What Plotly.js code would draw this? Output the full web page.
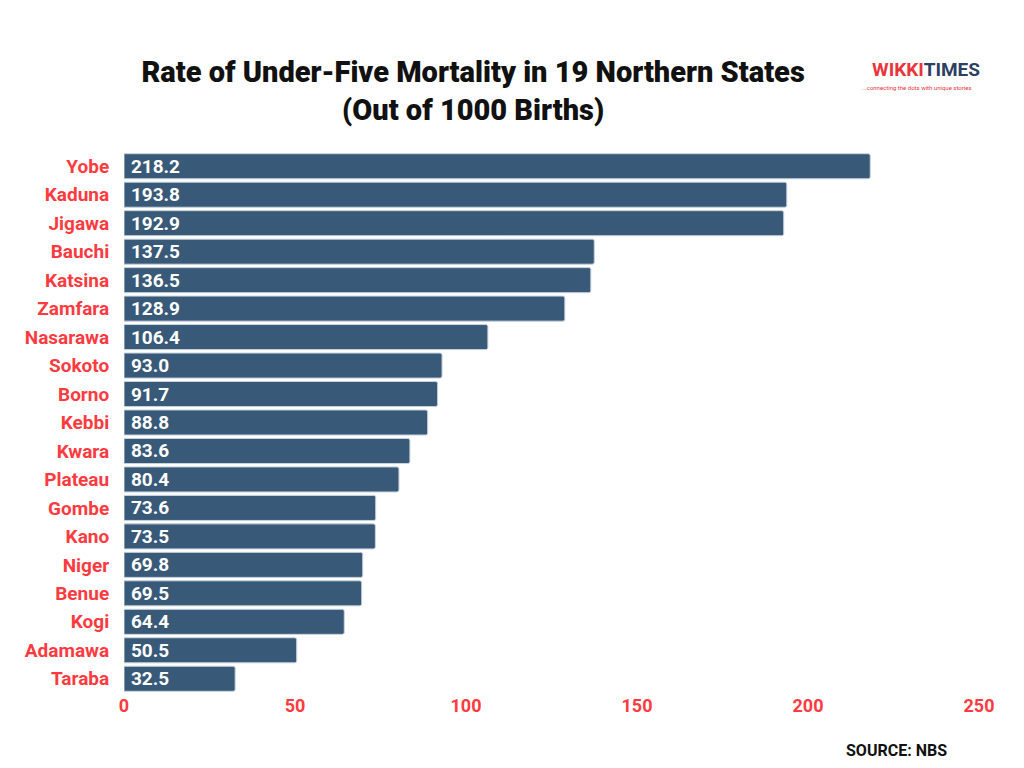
<!DOCTYPE html>
<html>
<head>
<meta charset="utf-8">
<script src="https://cdn.plot.ly/plotly-3.0.1.min.js"></script>
<style>
  html, body { margin: 0; padding: 0; background: #fff; }
  #chart { width: 1024px; height: 768px; }
</style>
</head>
<body>
<div id="chart"></div>
<script>
// states, top to bottom
var states = ["Yobe", "Kaduna", "Jigawa", "Bauchi", "Katsina", "Zamfara", "Nasarawa",
  "Sokoto", "Borno", "Kebbi", "Kwara", "Plateau", "Gombe", "Kano", "Niger",
  "Benue", "Kogi", "Adamawa", "Taraba"];
var rates = [218.2, 193.8, 192.9, 137.5, 136.5, 128.9, 106.4, 93.0, 91.7, 88.8,
  83.6, 80.4, 73.6, 73.5, 69.8, 69.5, 64.4, 50.5, 32.5];
var xTicks = [0, 50, 100, 150, 200, 250];

var red = '#ff3b3f';
var barColor = '#385a78';
var font = 'Roboto, "Open Sans", sans-serif';

var trace = {
  type: 'bar',
  orientation: 'h',
  x: rates,
  y: states,
  text: rates.map(function (v) { return '\u2009' + v.toFixed(1); }),
  textposition: 'inside',
  insidetextanchor: 'start',
  textangle: 0,
  constraintext: 'none',
  textfont: { family: font, size: 19, color: '#ffffff', weight: 700 },
  marker: {
    color: barColor,
    cornerradius: 2,
    line: { color: '#c9d3dc', width: 1 }
  },
  hoverinfo: 'none'
};

var layout = {
  width: 1024,
  height: 768,
  margin: { l: 124, r: 45, t: 152, b: 75 },
  paper_bgcolor: '#ffffff',
  plot_bgcolor: '#ffffff',
  showlegend: false,
  bargap: 0.12,
  title: {
    text: 'Rate of Under-Five Mortality in 19 Northern States<br>(Out of 1000 Births)',
    font: { family: font, size: 29, color: '#111111', weight: 900 },
    x: 0.462,
    xanchor: 'center',
    y: 0.893,
    yanchor: 'top'
  },
  xaxis: {
    range: [0, 250],
    tickvals: xTicks,
    ticktext: xTicks.map(String),
    showgrid: false,
    zeroline: false,
    showline: false,
    ticks: '',
    tickfont: { family: font, size: 18, color: red, weight: 700 },
    fixedrange: true
  },
  yaxis: {
    categoryorder: 'array',
    categoryarray: states.slice().reverse(),
    showgrid: false,
    zeroline: false,
    showline: false,
    ticks: 'outside',
    ticklen: 10,
    tickcolor: 'rgba(0,0,0,0)',
    tickfont: { family: font, size: 19, color: red, weight: 700 },
    fixedrange: true
  },
  annotations: [
    {
      text: '<b>WIKKI</b><span style="color:#2d3f63"><b>TIMES</b></span>',
      xref: 'paper', yref: 'paper', x: 1.004, y: 1.128,
      xanchor: 'right', yanchor: 'bottom', showarrow: false,
      font: { family: font, size: 19, color: '#e8353b' }
    },
    {
      text: '...connecting the dots with unique stories',
      xref: 'paper', yref: 'paper', x: 0.994, y: 1.13,
      xanchor: 'right', yanchor: 'top', showarrow: false,
      font: { family: font, size: 6, color: '#e8353b' }
    },
    {
      text: '<b>SOURCE: NBS</b>',
      xref: 'paper', yref: 'paper', x: 0.965, y: -0.085,
      xanchor: 'right', yanchor: 'top', showarrow: false,
      font: { family: font, size: 16, color: '#111111' }
    }
  ]
};

Plotly.newPlot('chart', [trace], layout, { displayModeBar: false, staticPlot: true });
</script>
</body>
</html>
